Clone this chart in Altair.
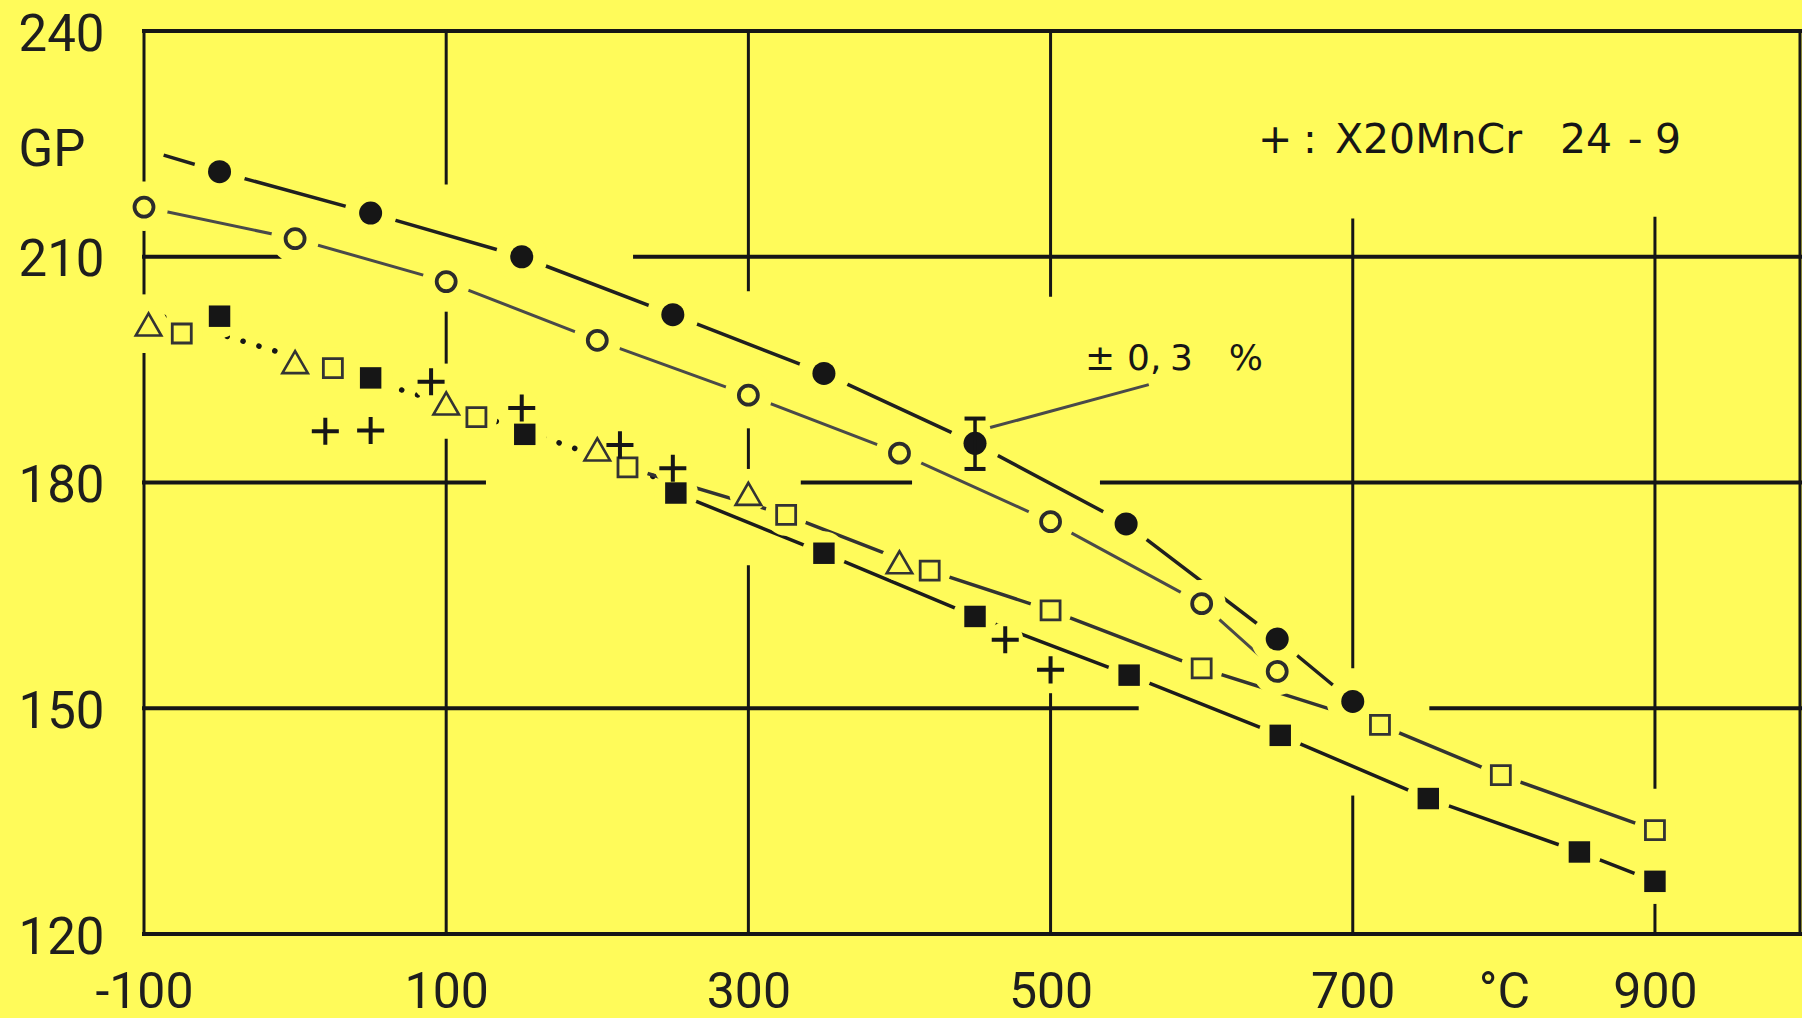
import altair as alt
import pandas as pd

# GP against temperature (°C), one list pair per specimen series
fc_t = [-50, 50, 150, 250, 350, 450, 550, 650, 700]            # filled circles
fc_gp = [221.3, 215.8, 210.0, 202.3, 194.5, 185.2, 174.5, 159.2, 150.9]

oc_t = [-100, 0, 100, 200, 300, 400, 500, 600, 650]             # open circles
oc_gp = [216.6, 212.4, 206.7, 198.9, 191.6, 183.9, 174.8, 163.9, 154.9]

tri_t = [-97, 0, 100, 200, 300, 400]                            # open triangles
tri_gp = [201.0, 196.0, 190.5, 184.4, 178.5, 169.4]

osq_t = [-75, 25, 120, 220, 325, 420, 500, 600, 718, 798, 900]  # open squares
osq_gp = [199.8, 195.2, 188.7, 182.0, 175.7, 168.3, 163.0, 155.3, 147.8, 141.1, 133.8]

fsq_t = [-50, 50, 152, 252, 350, 450, 552, 652, 750, 850, 900]  # filled squares
fsq_gp = [202.1, 193.9, 186.4, 178.6, 170.6, 162.2, 154.4, 146.4, 138.0, 130.9, 127.0]

plus_t = [20, 50, 90, 150, 215, 250, 470, 500]                  # X20MnCr 24-9
plus_gp = [186.8, 186.9, 193.4, 189.9, 185.0, 181.9, 159.1, 155.1]

# drawn curves
fc_curve_t = [-87] + fc_t
fc_curve_gp = [223.5] + fc_gp
low_fit_t = [-87, -12, 85, 166, 244]
low_fit_gp = [202.0, 197.4, 191.4, 185.9, 180.3]

# scatter band on the 450 °C point
err_t, err_lo, err_hi = 450, 181.8, 188.5
leader = {"t0": [460], "gp0": [187.3], "t1": [565], "gp1": [193.0]}

# hand-drawn grid: (GP, from °C, to °C) and (°C, from GP, to GP)
h_grid = [
    (240, -100, 996),
    (210, -100, -7.5), (210, 225, 996),
    (180, -100, 125), (180, 336, 407), (180, 534, 996),
    (150, -100, 557), (150, 752, 996),
    (120, -100, 996),
]
v_grid = [
    (-100, 240, 220.2), (-100, 213.5, 205.2), (-100, 197, 120),
    (100, 240, 219.8), (100, 202.5, 196), (100, 185.6, 120),
    (300, 240, 205.6), (300, 187, 182), (300, 168.8, 120),
    (500, 240, 204.9), (500, 151.8, 120),
    (700, 214.9, 155.5), (700, 138.2, 120),
    (900, 215.1, 139.5), (900, 123.8, 120),
    (996, 240, 120),
]

# annotation pieces
note_text = ["±", "0,", "3", "%"]
note_t = [522.8, 550.6, 579, 618]
note_gp = [194.95] * 4
key_text = ["+", ":", "X20MnCr", "24", "-", "9"]
key_t = [637.3, 667.0, 688.2, 837.1, 882, 900]
key_gp = [223.8] * 6

x_ticks = [-100, 100, 300, 500, 700, 800, 900]
y_ticks = [120, 150, 180, 210, 224.7, 240]

BG = "#fffb5a"
INK = "#161616"

x_scale = alt.Scale(domain=[-100, 996], nice=False, zero=False)
y_scale = alt.Scale(domain=[120, 240], nice=False, zero=False)

x_axis = alt.Axis(
    values=x_ticks, labelExpr="datum.value == 800 ? '°C' : '' + datum.value",
    title=None, grid=False, ticks=False, tickSize=0, domain=False,
    labelFont="Roboto", labelFontSize=50, labelColor="#1e1e1e",
    labelPadding=33, labelFlush=False, labelOverlap=False,
)
y_axis = alt.Axis(
    values=y_ticks,
    labelExpr="(datum.value > 224 && datum.value < 225) ? 'GP' : '' + datum.value",
    title=None, grid=False, ticks=False, tickSize=0, domain=False,
    labelFont="Roboto", labelFontSize=51, labelColor="#1e1e1e",
    labelAlign="left", labelPadding=126, labelOffset=4,
    labelFlush=False, labelOverlap=False,
)


def pts(t, gp):
    return pd.DataFrame({"t": t, "gp": gp})


def xq(field="t"):
    return alt.X(f"{field}:Q", scale=x_scale, axis=x_axis)


def yq(field="gp"):
    return alt.Y(f"{field}:Q", scale=y_scale, axis=y_axis)


hgrid = alt.Chart(pd.DataFrame(h_grid, columns=["gp", "t0", "t1"])).mark_rule(
    color=INK, strokeWidth=4, strokeCap="square"
).encode(x=xq("t0"), x2="t1:Q", y=yq("gp"))
vgrid = alt.Chart(pd.DataFrame(v_grid, columns=["t", "g0", "g1"])).mark_rule(
    color=INK, strokeWidth=3, strokeCap="square"
).encode(x=xq("t"), y=yq("g0"), y2="g1:Q")


def curve(t, gp, **style):
    return alt.Chart(pts(t, gp)).mark_line(strokeJoin="round", **style).encode(
        x=xq(), y=yq()
    )


low_fit = curve(low_fit_t, low_fit_gp, color=INK, strokeWidth=5.5,
                strokeDash=[0.1, 16.5], strokeCap="round")
oc_curve = curve(oc_t, oc_gp, color="#4a4a4a", strokeWidth=3)
fc_curve = curve(fc_curve_t, fc_curve_gp, color="#202020", strokeWidth=3.5)
osq_curve = curve(osq_t[3:], osq_gp[3:], color="#333333", strokeWidth=3.5)
fsq_curve = curve(fsq_t[3:], fsq_gp[3:], color="#1c1c1c", strokeWidth=3.5)


def halo(t, gp, d):
    return alt.Chart(pts(t, gp)).mark_point(
        shape="circle", filled=True, color=BG, opacity=1, size=d * d, strokeWidth=0
    ).encode(x=xq(), y=yq())


halos = [
    halo(fc_t, fc_gp, 52), halo(oc_t, oc_gp, 48), halo(tri_t, tri_gp, 38),
    halo(osq_t, osq_gp, 42), halo(fsq_t, fsq_gp, 44), halo(plus_t, plus_gp, 36),
]


def marks(t, gp, **style):
    return alt.Chart(pts(t, gp)).mark_point(opacity=1, **style).encode(x=xq(), y=yq())


fc_mk = marks(fc_t, fc_gp, shape="circle", filled=True, color=INK, size=530)
oc_mk = marks(oc_t, oc_gp, shape="circle", filled=False, color="#2c2c2c",
              strokeWidth=3.8, size=361)
tri_mk = marks(tri_t, tri_gp, shape="triangle-up", filled=False, color="#333333",
               strokeWidth=2.6, size=650)
osq_mk = marks(osq_t, osq_gp, shape="square", filled=False, color="#333333",
               strokeWidth=2.8, size=361)
fsq_mk = marks(fsq_t, fsq_gp, shape="square", filled=True, color=INK, size=460)
plus_mk = marks(plus_t, plus_gp, shape="M-1,0L1,0M0,-1L0,1", filled=False,
                color=INK, strokeWidth=4, size=730)

err_bar = alt.Chart(pd.DataFrame({"t": [err_t], "lo": [err_lo], "hi": [err_hi]})).mark_rule(
    color=INK, strokeWidth=3.5
).encode(x=xq(), y=yq("lo"), y2="hi:Q")
err_caps = marks([err_t, err_t], [err_lo, err_hi], shape="M-1,0L1,0", filled=False,
                 color=INK, strokeWidth=4, size=440)
leader_line = alt.Chart(pd.DataFrame(leader)).mark_rule(color="#4a4a4a", strokeWidth=3).encode(
    x=xq("t0"), y=yq("gp0"), x2="t1:Q", y2="gp1:Q"
)

note = alt.Chart(pd.DataFrame({"label": note_text, "t": note_t, "gp": note_gp})).mark_text(
    align="left", baseline="alphabetic", font="DejaVu Sans", fontSize=36, color=INK
).encode(x=xq(), y=yq(), text="label:N")
key = alt.Chart(pd.DataFrame({"label": key_text, "t": key_t, "gp": key_gp})).mark_text(
    align="left", baseline="alphabetic", font="DejaVu Sans", fontSize=41, color=INK
).encode(x=xq(), y=yq(), text="label:N")

chart = alt.layer(
    hgrid, vgrid,
    low_fit, oc_curve, fc_curve, osq_curve, fsq_curve,
    *halos,
    oc_mk, fc_mk, tri_mk, osq_mk, fsq_mk, plus_mk,
    err_bar, err_caps, leader_line,
    note, key,
).properties(
    width=1656,
    height=903,
    autosize=alt.AutoSizeParams(type="none"),
    padding={"left": 144, "top": 31, "right": 2, "bottom": 84},
    background=BG,
).configure_view(strokeWidth=0)

chart.save("out.html", embed_options={"renderer": "svg", "actions": False})
